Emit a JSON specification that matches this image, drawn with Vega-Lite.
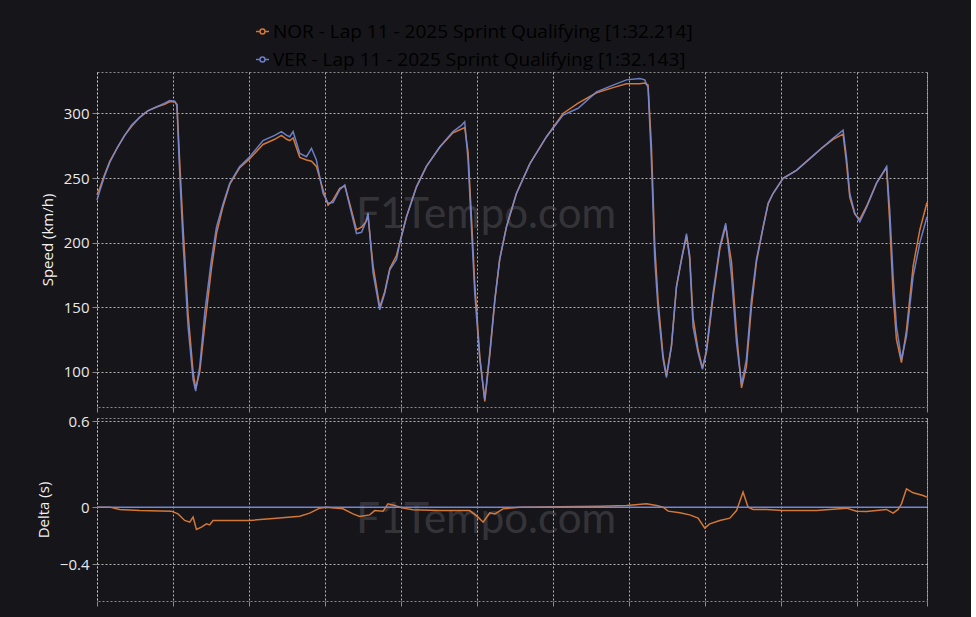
{
  "$schema": "https://vega.github.io/schema/vega-lite/v6.json",
  "background": "#16151a",
  "padding": {"left": 35, "top": 22, "right": 40, "bottom": 10},
  "datasets": {
    "speed": [
      {"d":0,"VER":233,"NOR":237},{"d":18,"VER":240,"NOR":242},{"d":51,"VER":252,"NOR":253},{"d":84,"VER":262,"NOR":263},
      {"d":136,"VER":274,"NOR":274},{"d":182,"VER":283,"NOR":283},{"d":228,"VER":291,"NOR":290},{"d":281,"VER":297,"NOR":297},
      {"d":334,"VER":302,"NOR":302},{"d":391,"VER":305,"NOR":305},{"d":445,"VER":308,"NOR":307},{"d":478,"VER":310,"NOR":309},
      {"d":511,"VER":309.5,"NOR":309},{"d":526,"VER":306,"NOR":307},{"d":540,"VER":264,"NOR":272},{"d":566,"VER":200,"NOR":212},
      {"d":599,"VER":135,"NOR":145},{"d":632,"VER":94,"NOR":100},{"d":649,"VER":85,"NOR":87},{"d":676,"VER":104,"NOR":100},
      {"d":709,"VER":146,"NOR":136},{"d":753,"VER":187,"NOR":180},{"d":786,"VER":212,"NOR":207},{"d":829,"VER":230,"NOR":228},
      {"d":873,"VER":246,"NOR":245},{"d":939,"VER":259,"NOR":258},{"d":1005,"VER":266.5,"NOR":265},{"d":1092,"VER":279,"NOR":276},
      {"d":1169,"VER":283,"NOR":280},{"d":1213,"VER":286,"NOR":283},{"d":1248,"VER":283,"NOR":280},{"d":1268,"VER":282,"NOR":279},
      {"d":1290,"VER":286,"NOR":281},{"d":1334,"VER":269,"NOR":266},{"d":1378,"VER":266.5,"NOR":264},{"d":1411,"VER":273,"NOR":263},
      {"d":1443,"VER":264,"NOR":259},{"d":1487,"VER":238,"NOR":241},{"d":1520,"VER":230.5,"NOR":229},{"d":1553,"VER":231,"NOR":233},
      {"d":1597,"VER":241,"NOR":242},{"d":1630,"VER":244.6,"NOR":244},{"d":1663,"VER":228,"NOR":230},{"d":1707,"VER":207,"NOR":210},
      {"d":1740,"VER":208,"NOR":212},{"d":1768,"VER":216,"NOR":216},{"d":1783,"VER":223,"NOR":220},{"d":1816,"VER":176.5,"NOR":182},
      {"d":1860,"VER":148,"NOR":150},{"d":1893,"VER":161,"NOR":162},{"d":1926,"VER":179,"NOR":180},{"d":1970,"VER":187,"NOR":190},
      {"d":1992,"VER":200,"NOR":200},{"d":2036,"VER":220,"NOR":220},{"d":2101,"VER":243,"NOR":243},{"d":2167,"VER":259,"NOR":259},
      {"d":2255,"VER":274,"NOR":274},{"d":2342,"VER":286,"NOR":285},{"d":2399,"VER":291,"NOR":288},{"d":2419,"VER":293.5,"NOR":289},
      {"d":2441,"VER":264,"NOR":270},{"d":2463,"VER":212,"NOR":220},{"d":2485,"VER":161,"NOR":168},{"d":2518,"VER":109.5,"NOR":112},
      {"d":2551,"VER":78.6,"NOR":77},{"d":2584,"VER":115,"NOR":113},{"d":2617,"VER":156,"NOR":155},{"d":2649,"VER":187,"NOR":187},
      {"d":2693,"VER":212,"NOR":212},{"d":2759,"VER":238,"NOR":238},{"d":2847,"VER":261,"NOR":261},{"d":2957,"VER":282,"NOR":282},
      {"d":3066,"VER":298.7,"NOR":300},{"d":3165,"VER":304,"NOR":308},{"d":3286,"VER":316.7,"NOR":316},{"d":3395,"VER":321.9,"NOR":320},
      {"d":3483,"VER":326,"NOR":323},{"d":3570,"VER":327,"NOR":323},{"d":3603,"VER":326,"NOR":323.5},{"d":3625,"VER":320,"NOR":322},
      {"d":3647,"VER":264,"NOR":275},{"d":3669,"VER":187,"NOR":198},{"d":3691,"VER":148,"NOR":155},{"d":3724,"VER":109.5,"NOR":112},
      {"d":3746,"VER":95.4,"NOR":97},{"d":3779,"VER":120,"NOR":120},{"d":3812,"VER":166,"NOR":166},{"d":3845,"VER":187,"NOR":187},
      {"d":3878,"VER":207,"NOR":205},{"d":3899,"VER":187,"NOR":190},{"d":3921,"VER":135,"NOR":142},{"d":3954,"VER":114.7,"NOR":117},
      {"d":3983,"VER":101.8,"NOR":103},{"d":4009,"VER":117,"NOR":115},{"d":4053,"VER":161,"NOR":158},{"d":4097,"VER":197,"NOR":195},
      {"d":4136,"VER":215,"NOR":213},{"d":4174,"VER":174,"NOR":185},{"d":4207,"VER":122.4,"NOR":130},{"d":4240,"VER":90,"NOR":87.5},
      {"d":4272,"VER":109.5,"NOR":104},{"d":4305,"VER":156,"NOR":150},{"d":4338,"VER":187,"NOR":185},{"d":4382,"VER":212,"NOR":212},
      {"d":4415,"VER":230.5,"NOR":230},{"d":4447,"VER":238,"NOR":238},{"d":4513,"VER":249.8,"NOR":249.8},{"d":4601,"VER":256,"NOR":256},
      {"d":4689,"VER":265,"NOR":265},{"d":4776,"VER":274,"NOR":274},{"d":4842,"VER":280.7,"NOR":280},{"d":4908,"VER":287,"NOR":284},
      {"d":4930,"VER":266.5,"NOR":262},{"d":4952,"VER":238,"NOR":235},{"d":4985,"VER":222.8,"NOR":222},{"d":5018,"VER":216,"NOR":218},
      {"d":5062,"VER":227,"NOR":228},{"d":5128,"VER":246,"NOR":246},{"d":5194,"VER":258.8,"NOR":258},{"d":5215,"VER":225,"NOR":215},
      {"d":5237,"VER":174,"NOR":160},{"d":5259,"VER":135,"NOR":125},{"d":5292,"VER":109.5,"NOR":107},{"d":5325,"VER":127.5,"NOR":132},
      {"d":5369,"VER":174,"NOR":182},{"d":5413,"VER":200,"NOR":210},{"d":5460,"VER":220,"NOR":231}
    ],
    "delta": [
      {"drv":"VER","d":0,"dt":0},{"drv":"VER","d":5460,"dt":0},
      {"drv":"NOR","d":0,"dt":0},{"drv":"NOR","d":84,"dt":0},{"drv":"NOR","d":149,"dt":-0.017},{"drv":"NOR","d":281,"dt":-0.024},
      {"drv":"NOR","d":489,"dt":-0.028},{"drv":"NOR","d":533,"dt":-0.047},{"drv":"NOR","d":577,"dt":-0.093},{"drv":"NOR","d":610,"dt":-0.105},
      {"drv":"NOR","d":632,"dt":-0.07},{"drv":"NOR","d":654,"dt":-0.156},{"drv":"NOR","d":687,"dt":-0.14},{"drv":"NOR","d":720,"dt":-0.117},
      {"drv":"NOR","d":741,"dt":-0.124},{"drv":"NOR","d":763,"dt":-0.093},{"drv":"NOR","d":829,"dt":-0.093},{"drv":"NOR","d":1005,"dt":-0.093},
      {"drv":"NOR","d":1180,"dt":-0.077},{"drv":"NOR","d":1334,"dt":-0.063},{"drv":"NOR","d":1399,"dt":-0.042},{"drv":"NOR","d":1465,"dt":-0.007},
      {"drv":"NOR","d":1509,"dt":0},{"drv":"NOR","d":1618,"dt":-0.012},{"drv":"NOR","d":1684,"dt":-0.047},{"drv":"NOR","d":1728,"dt":-0.065},
      {"drv":"NOR","d":1794,"dt":-0.054},{"drv":"NOR","d":1827,"dt":-0.024},{"drv":"NOR","d":1882,"dt":-0.028},{"drv":"NOR","d":1914,"dt":0.023},
      {"drv":"NOR","d":1959,"dt":0.012},{"drv":"NOR","d":2013,"dt":-0.007},{"drv":"NOR","d":2079,"dt":-0.019},{"drv":"NOR","d":2255,"dt":-0.024},
      {"drv":"NOR","d":2452,"dt":-0.024},{"drv":"NOR","d":2507,"dt":-0.07},{"drv":"NOR","d":2540,"dt":-0.105},{"drv":"NOR","d":2584,"dt":-0.04},
      {"drv":"NOR","d":2617,"dt":-0.047},{"drv":"NOR","d":2671,"dt":-0.012},{"drv":"NOR","d":2781,"dt":0},{"drv":"NOR","d":3307,"dt":0.007},
      {"drv":"NOR","d":3483,"dt":0.012},{"drv":"NOR","d":3615,"dt":0.023},{"drv":"NOR","d":3680,"dt":0.012},{"drv":"NOR","d":3724,"dt":0},
      {"drv":"NOR","d":3757,"dt":-0.028},{"drv":"NOR","d":3834,"dt":-0.04},{"drv":"NOR","d":3899,"dt":-0.054},{"drv":"NOR","d":3954,"dt":-0.077},
      {"drv":"NOR","d":3998,"dt":-0.147},{"drv":"NOR","d":4031,"dt":-0.117},{"drv":"NOR","d":4097,"dt":-0.093},{"drv":"NOR","d":4163,"dt":-0.077},
      {"drv":"NOR","d":4207,"dt":-0.024},{"drv":"NOR","d":4250,"dt":0.105},{"drv":"NOR","d":4283,"dt":0},{"drv":"NOR","d":4316,"dt":-0.016},
      {"drv":"NOR","d":4404,"dt":-0.016},{"drv":"NOR","d":4513,"dt":-0.024},{"drv":"NOR","d":4733,"dt":-0.024},{"drv":"NOR","d":4930,"dt":-0.007},
      {"drv":"NOR","d":4996,"dt":-0.028},{"drv":"NOR","d":5062,"dt":-0.03},{"drv":"NOR","d":5193,"dt":-0.016},{"drv":"NOR","d":5237,"dt":-0.042},
      {"drv":"NOR","d":5270,"dt":-0.016},{"drv":"NOR","d":5292,"dt":0.023},{"drv":"NOR","d":5325,"dt":0.128},{"drv":"NOR","d":5369,"dt":0.1},
      {"drv":"NOR","d":5434,"dt":0.081},{"drv":"NOR","d":5460,"dt":0.07}
    ],
    "wm": [{"t":"F1Tempo.com","d":2560,"v":221,"dt":-0.09}]
  },
  "config": {
    "font": "Open Sans",
    "view": {"stroke": "#8a8a8a", "strokeDash": [2,2], "strokeWidth": 1},
    "axis": {
      "domain": false,
      "grid": true,
      "gridColor": "#d8d8d8",
      "gridDash": [2,2],
      "gridOpacity": 0.8,
      "gridWidth": 1,
      "tickColor": "#8a8a8a",
      "tickSize": 5,
      "labelColor": "#e8e8e8",
      "labelFontSize": 15,
      "labelFont": "Open Sans",
      "labelPadding": 3,
      "titleColor": "#f2f2f2",
      "titleFontSize": 15,
      "titleFont": "Open Sans",
      "titleFontWeight": "normal",
      "titlePadding": 8
    }
  },
  "spacing": 0,
  "vconcat": [
    {
      "width": 830,
      "height": 335,
      "layer": [
        {
          "data": {"name": "wm"},
          "mark": {"type": "text", "fontSize": 42, "font": "Lato", "color": "#ffffff", "opacity": 0.13},
          "encoding": {
            "x": {"field": "d", "type": "quantitative"},
            "y": {"field": "v", "type": "quantitative"},
            "text": {"field": "t"}
          }
        },
        {
          "data": {"name": "speed"},
          "transform": [{"fold": ["NOR", "VER"], "as": ["drv", "v"]}],
          "mark": {"type": "line", "strokeWidth": 1.5, "opacity": 0.9},
          "encoding": {
            "x": {
              "field": "d", "type": "quantitative",
              "scale": {"domain": [0, 5460], "nice": false, "zero": false},
              "axis": {"title": null, "labels": false, "values": [0,500,1000,1500,2000,2500,3000,3500,4000,4500,5000,5460]}
            },
            "y": {
              "field": "v", "type": "quantitative",
              "scale": {"domain": [72.7, 332.1], "nice": false, "zero": false},
              "axis": {"title": "Speed (km/h)", "values": [100,150,200,250,300]}
            },
            "color": {
              "field": "drv", "type": "nominal",
              "scale": {"domain": ["NOR", "VER"], "range": ["#e8823a", "#7489d8"]},
              "legend": {
                "orient": "none",
                "legendX": 156,
                "legendY": -50,
                "direction": "vertical",
                "title": null,
                "symbolType": "M-1,0L-0.38,0M0.38,0L1,0M-0.38,0A0.38,0.38,0,1,1,0.38,0A0.38,0.38,0,1,1,-0.38,0",
                "symbolSize": 169,
                "symbolStrokeWidth": 1.5,
                "symbolFillColor": "transparent",
                "labelFontSize": 19,
                "labelFont": "Open Sans",
                "labelLimit": 800,
                "labelOffset": 1,
                "rowPadding": 8,
                "labelExpr": "datum.value === 'NOR' ? 'NOR - Lap 11 - 2025 Sprint Qualifying [1:32.214]' : 'VER - Lap 11 - 2025 Sprint Qualifying [1:32.143]'",
                "encode": {
                  "labels": {"update": {"fill": {"signal": "datum.value === 'NOR' ? '#e0813f' : '#6f86cf'"}}},
                  "symbols": {"update": {"fill": {"value": "transparent"}}}
                }
              }
            }
          }
        }
      ]
    },
    {
      "width": 830,
      "height": 183,
      "layer": [
        {
          "data": {"name": "wm"},
          "mark": {"type": "text", "fontSize": 42, "font": "Lato", "color": "#ffffff", "opacity": 0.13},
          "encoding": {
            "x": {"field": "d", "type": "quantitative"},
            "y": {"field": "dt", "type": "quantitative"},
            "text": {"field": "t"}
          }
        },
        {
          "data": {"name": "delta"},
          "transform": [{"filter": "datum.drv === 'NOR'"}],
          "mark": {"type": "line", "strokeWidth": 1.5, "color": "#e8823a", "opacity": 0.9},
          "encoding": {
            "x": {
              "field": "d", "type": "quantitative",
              "scale": {"domain": [0, 5460], "nice": false, "zero": false},
              "axis": {"title": null, "labels": false, "values": [0,500,1000,1500,2000,2500,3000,3500,4000,4500,5000,5460]}
            },
            "y": {
              "field": "dt", "type": "quantitative",
              "scale": {"domain": [-0.656, 0.623], "nice": false, "zero": false},
              "axis": {"title": "Delta (s)", "values": [-0.4, 0, 0.6], "format": "~g"}
            }
          }
        },
        {
          "data": {"name": "delta"},
          "transform": [{"filter": "datum.drv === 'VER'"}],
          "mark": {"type": "line", "strokeWidth": 1.5, "color": "#7489d8", "opacity": 0.95},
          "encoding": {
            "x": {"field": "d", "type": "quantitative"},
            "y": {"field": "dt", "type": "quantitative"}
          }
        }
      ]
    }
  ]
}
